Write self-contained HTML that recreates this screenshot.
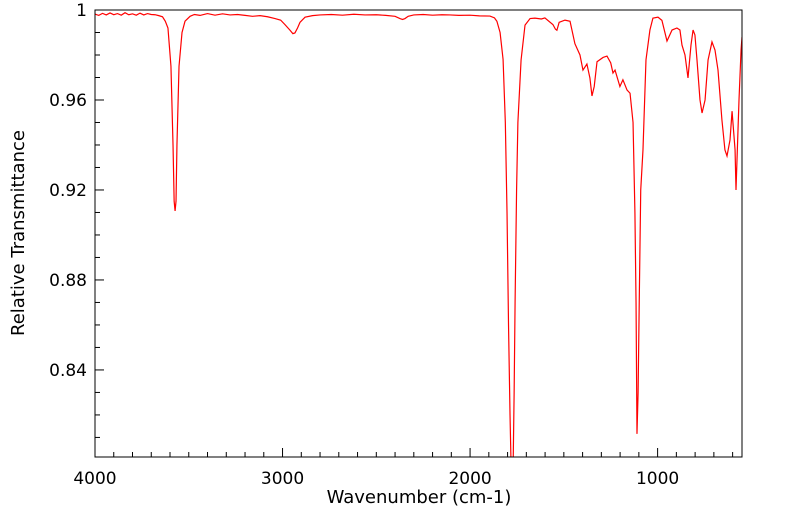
<!DOCTYPE html>
<html><head><meta charset="utf-8"><style>
html,body{margin:0;padding:0;background:#fff;}
svg{display:block;font-family:"DejaVu Sans","Liberation Sans",sans-serif;}
</style></head><body>
<svg id="chart" width="799" height="516" viewBox="0 0 799 516">
<defs><clipPath id="clip"><rect x="95" y="10" width="647" height="447"/></clipPath></defs>
<g id="grid"></g>
<path id="line" fill="none" stroke="#ff0000" stroke-width="1.2" clip-path="url(#clip)"/>
<rect x="95" y="10" width="647" height="447" fill="none" stroke="#000" stroke-width="1"/>
<text x="419" y="503" font-size="18" text-anchor="middle">Wavenumber (cm-1)</text>
<text transform="translate(24,233) rotate(-90)" font-size="18" text-anchor="middle">Relative Transmittance</text>
</svg>
<script>
const wavenumbers=[
4000,3980,3960,3940,3920,3900,3880,3860,3840,3820,3800,3780,3760,3740,3720,3700,3680,3660,3640,3625,3611,3595,3584,3578,3573,3568,3563,3552,3536,3520,3493,3470,3440,
3400,3360,3320,3280,3240,3200,3160,3120,3080,3040,3010,2987,2960,2945,2934,2920,2907,2880,2840,2800,2740,2680,2620,2560,2500,2450,2400,2374,2360,2347,2330,2300,2250,2200,2150,2107,2060,2000,1950,
1894,1870,1857,1840,1824,1812,1803,1795,1787,1782,1776,1770,1765,1760,1752,1745,1728,1707,1680,1654,1620,1601,1558,1545,1537,1525,1494,1467,1441,1414,1398,1377,1361,1350,1338,1323,1291,1270,1250,1238,1227,1201,1185,1163,1147,1131,1121,1115,1110,1104,1098,1090,1078,1062,1041,1025,
998,977,950,923,897,881,870,854,838,822,811,801,790,774,763,747,731,710,694,678,657,641,630,614,603,587,582,566,555,550];
const transmittance=[
0.9982,0.9976,0.9985,0.9978,0.9987,0.9979,0.9984,0.9977,0.9988,0.9979,0.9983,0.9977,0.9986,0.9978,0.9984,0.998,0.9979,0.9975,0.997,0.995,0.992,0.975,0.94,0.915,0.9107,0.915,0.94,0.975,0.99,0.995,0.9972,0.998,0.9976,
0.9984,0.9977,0.9983,0.9978,0.998,0.9976,0.9972,0.9975,0.997,0.9962,0.9955,0.9935,0.991,0.9895,0.9898,0.992,0.9945,0.9968,0.9975,0.9978,0.998,0.9977,0.9981,0.9978,0.9979,0.9976,0.9972,0.9962,0.9958,0.9962,0.9972,0.9978,0.998,0.9977,0.9979,0.9978,0.9976,0.9977,0.9974,
0.9973,0.9965,0.995,0.99,0.978,0.95,0.91,0.86,0.82,0.80,0.795,0.80,0.83,0.87,0.92,0.95,0.9778,0.9933,0.9962,0.9964,0.996,0.9965,0.9935,0.9915,0.991,0.9945,0.9955,0.995,0.985,0.98,0.9733,0.976,0.9698,0.9618,0.966,0.977,0.9789,0.9795,0.9765,0.972,0.9733,0.966,0.969,0.9644,0.963,0.95,0.91,0.87,0.8116,0.83,0.87,0.92,0.9378,0.9778,0.9911,0.9964,
0.9968,0.9954,0.9862,0.9911,0.992,0.9911,0.9844,0.98,0.9698,0.9844,0.9911,0.9889,0.9778,0.96,0.9542,0.96,0.9778,0.9858,0.9822,0.9733,0.9511,0.9378,0.9351,0.9422,0.955,0.9378,0.92,0.96,0.9822,0.988];
const xTicks=[4000,3000,2000,1000];
const yTicks=[0.84,0.88,0.92,0.96,1];
const L=95,R=742,T=10,B=457,W0=4000,W1=550,Y0=0.8013,Y1=1;
const xs=w=>L+(W0-w)/(W0-W1)*(R-L);
const ys=v=>B-(v-Y0)/(Y1-Y0)*(B-T);
const NS='http://www.w3.org/2000/svg';
const g=document.getElementById('grid');
function line(x1,y1,x2,y2,name){const l=document.createElementNS(NS,'line');l.setAttribute('x1',x1);l.setAttribute('y1',y1);l.setAttribute('x2',x2);l.setAttribute('y2',y2);l.setAttribute('stroke','#000');l.setAttribute('stroke-width','1');


g.appendChild(l);}
function text(x,y,s,anchor,name){const t=document.createElementNS(NS,'text');t.setAttribute('x',x);t.setAttribute('y',y);t.setAttribute('font-size','17');t.setAttribute('text-anchor',anchor);t.textContent=s;


g.appendChild(t);}
for(let w=4000;w>=600;w-=100){const x=xs(w);const major=w%1000===0;line(x,B,x,B-(major?9:5),'x-tick');}
xTicks.forEach(w=>text(xs(w),B+27,String(w),'middle','x-tick-label'));
for(let k=0;k<=19;k++){const v=1-k*0.01;if(v<Y0)break;const y=ys(v);const r=Math.round(v*100)%4;line(L,y,L+(r===0?9:5),y,'y-tick');}
yTicks.forEach(v=>text(L-8,ys(v)+6,v===1?'1':String(v),'end','y-tick-label'));
const n=Math.min(wavenumbers.length,transmittance.length);
let d='';for(let i=0;i<n;i++){d+=(i?'L':'M')+xs(wavenumbers[i]).toFixed(2)+' '+ys(transmittance[i]).toFixed(2);}
document.getElementById('line').setAttribute('d',d);
</script>
</body></html>
